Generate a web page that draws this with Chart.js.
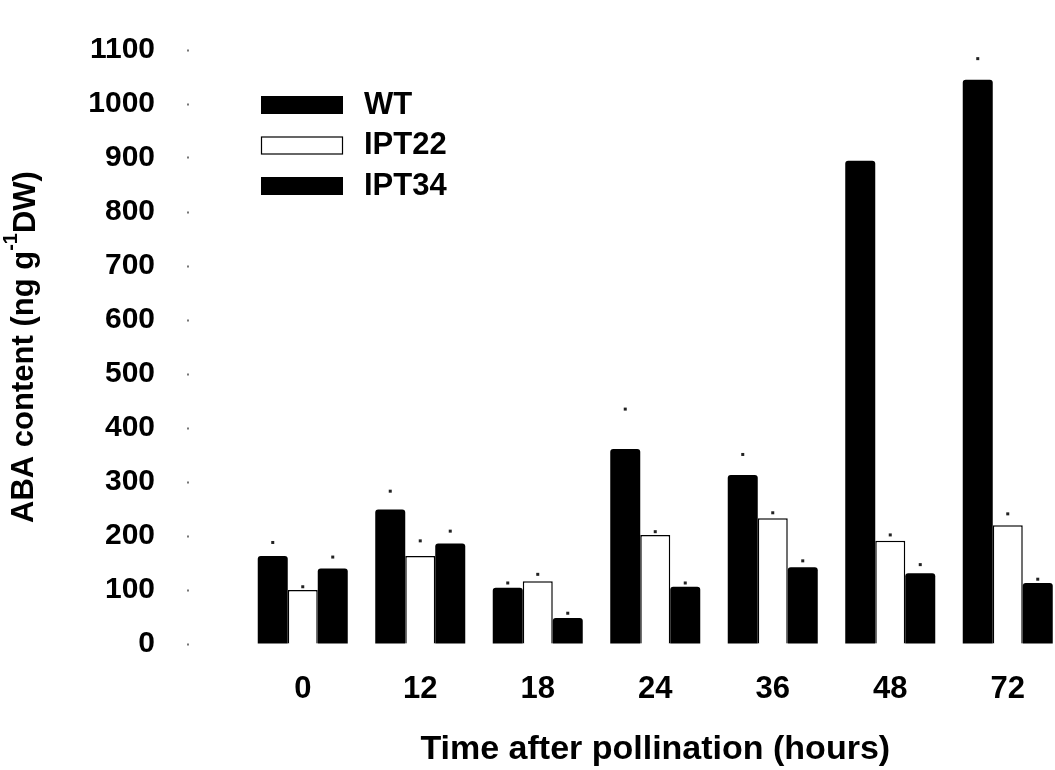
<!DOCTYPE html>
<html>
<head>
<meta charset="utf-8">
<script src="https://cdn.jsdelivr.net/npm/chart.js@4.4.1/dist/chart.umd.min.js"></script>
<style>
html,body{margin:0;padding:0;background:#fff;overflow:hidden;width:1055px;height:770px}
canvas{display:block}
</style>
</head>
<body>
<canvas id="c" width="1070" height="770"></canvas>
<script>
// ---- data ----
const categories = ['0', '12', '18', '24', '36', '48', '72'];
const seriesNames = ['WT', 'IPT22', 'IPT34'];
const wtValues    = [163, 249, 104, 361, 313, 895, 1045];
const ipt22Values = [100, 163, 116, 202, 233, 191, 220];
const ipt34Values = [140, 186, 48, 106, 142, 131, 113];
// error bar heights (only the caps are visible in the reference)
const wtErrors    = [25, 34, 9, 74, 38, null, 39];
const ipt22Errors = [6, 28, 13, 6, 10, 11, 21];
const ipt34Errors = [21, 23, 9, 7, 12, 16, 7];
const yMin = 0, yMax = 1100, yStep = 100;
const xTitle = 'Time after pollination (hours)';
const yTitleParts = ['ABA content (ng g', '-1', 'DW)'];

const FONT = "'Liberation Sans', Arial, Helvetica, sans-serif";
const errorsBySeries = [wtErrors, ipt22Errors, ipt34Errors];

const errorDots = {
  id: 'errorDots',
  afterDatasetsDraw(chart) {
    const ctx = chart.ctx;
    const y = chart.scales.y;
    ctx.save();
    ctx.fillStyle = '#222';
    chart.data.datasets.forEach((ds, i) => {
      const meta = chart.getDatasetMeta(i);
      const errs = errorsBySeries[i];
      meta.data.forEach((bar, j) => {
        if (errs[j] == null) return;
        const py = y.getPixelForValue(ds.data[j] + errs[j]);
        ctx.fillRect(bar.x - 1.5, py - 1.5, 3, 3);
      });
    });
    ctx.restore();
  }
};

const yTitlePlugin = {
  id: 'yTitle',
  afterDraw(chart) {
    const ctx = chart.ctx;
    const area = chart.chartArea;
    const big = 'bold 31px ' + FONT;
    const small = 'bold 20px ' + FONT;
    ctx.save();
    ctx.fillStyle = '#000';
    ctx.textBaseline = 'middle';
    ctx.font = big;
    const w0 = ctx.measureText(yTitleParts[0]).width;
    const w2 = ctx.measureText(yTitleParts[2]).width;
    ctx.font = small;
    const w1 = ctx.measureText(yTitleParts[1]).width;
    const total = w0 + w1 + w2;
    ctx.translate(24, (area.top + area.bottom) / 2);
    ctx.rotate(-Math.PI / 2);
    let x = -total / 2;
    ctx.textAlign = 'left';
    ctx.font = big;
    ctx.fillText(yTitleParts[0], x, 0);
    x += w0;
    ctx.font = small;
    ctx.fillText(yTitleParts[1], x, -13);
    x += w1;
    ctx.font = big;
    ctx.fillText(yTitleParts[2], x, 2);
    ctx.restore();
  }
};

const legendPlugin = {
  id: 'insideLegend',
  afterDraw(chart) {
    const ctx = chart.ctx;
    const area = chart.chartArea;
    ctx.save();
    ctx.font = 'bold 31px ' + FONT;
    ctx.textBaseline = 'middle';
    ctx.textAlign = 'left';
    chart.data.datasets.forEach((ds, i) => {
      const cy = area.top + 55 + i * 40.5;
      const bx = area.left + 17;
      ctx.fillStyle = ds.backgroundColor;
      ctx.fillRect(bx, cy - 9, 82, 18);
      if (ds.backgroundColor === '#ffffff') {
        ctx.strokeStyle = '#000';
        ctx.lineWidth = 1.2;
        ctx.strokeRect(bx + 0.5, cy - 8.5, 81, 17);
      }
      ctx.fillStyle = '#000';
      ctx.fillText(ds.label, bx + 103, cy);
    });
    ctx.restore();
  }
};

new Chart(document.getElementById('c'), {
  type: 'bar',
  data: {
    labels: categories,
    datasets: [
      { label: seriesNames[0], data: wtValues, backgroundColor: '#000000', borderColor: '#000000', borderWidth: 0, borderRadius: 3 },
      { label: seriesNames[1], data: ipt22Values, backgroundColor: '#ffffff', borderColor: '#000000', borderWidth: 1.5 },
      { label: seriesNames[2], data: ipt34Values, backgroundColor: '#000000', borderColor: '#000000', borderWidth: 0, borderRadius: 3 }
    ]
  },
  options: {
    responsive: false,
    animation: false,
    events: [],
    layout: { padding: { top: 29, right: 3.5, left: 0, bottom: 0 } },
    datasets: { bar: { categoryPercentage: 0.766, barPercentage: 1.0 } },
    plugins: { legend: { display: false }, tooltip: { enabled: false } },
    scales: {
      x: {
        type: 'category',
        offset: true,
        grid: { display: false, drawTicks: false },
        border: { display: false },
        ticks: { color: '#000', font: { family: FONT, size: 31, weight: 'bold' }, padding: 27, maxRotation: 0 },
        title: { display: true, text: xTitle, color: '#000', font: { family: FONT, size: 34, weight: 'bold' }, padding: { top: 0, bottom: 0 } },
        afterFit(scale) { scale.height = 126; }
      },
      y: {
        min: yMin, max: yMax,
        grid: { display: true, drawOnChartArea: false, drawTicks: true, tickLength: 57, tickColor: '#777', tickWidth: 2, tickBorderDash: [2, 300] },
        border: { display: false },
        ticks: { stepSize: yStep, color: '#000', font: { family: FONT, size: 30, weight: 'bold' }, padding: 32,
                 callback: (v) => String(v) },
        afterFit(scale) { scale.width = 244; }
      }
    }
  },
  plugins: [errorDots, yTitlePlugin, legendPlugin]
});
</script>
</body>
</html>
